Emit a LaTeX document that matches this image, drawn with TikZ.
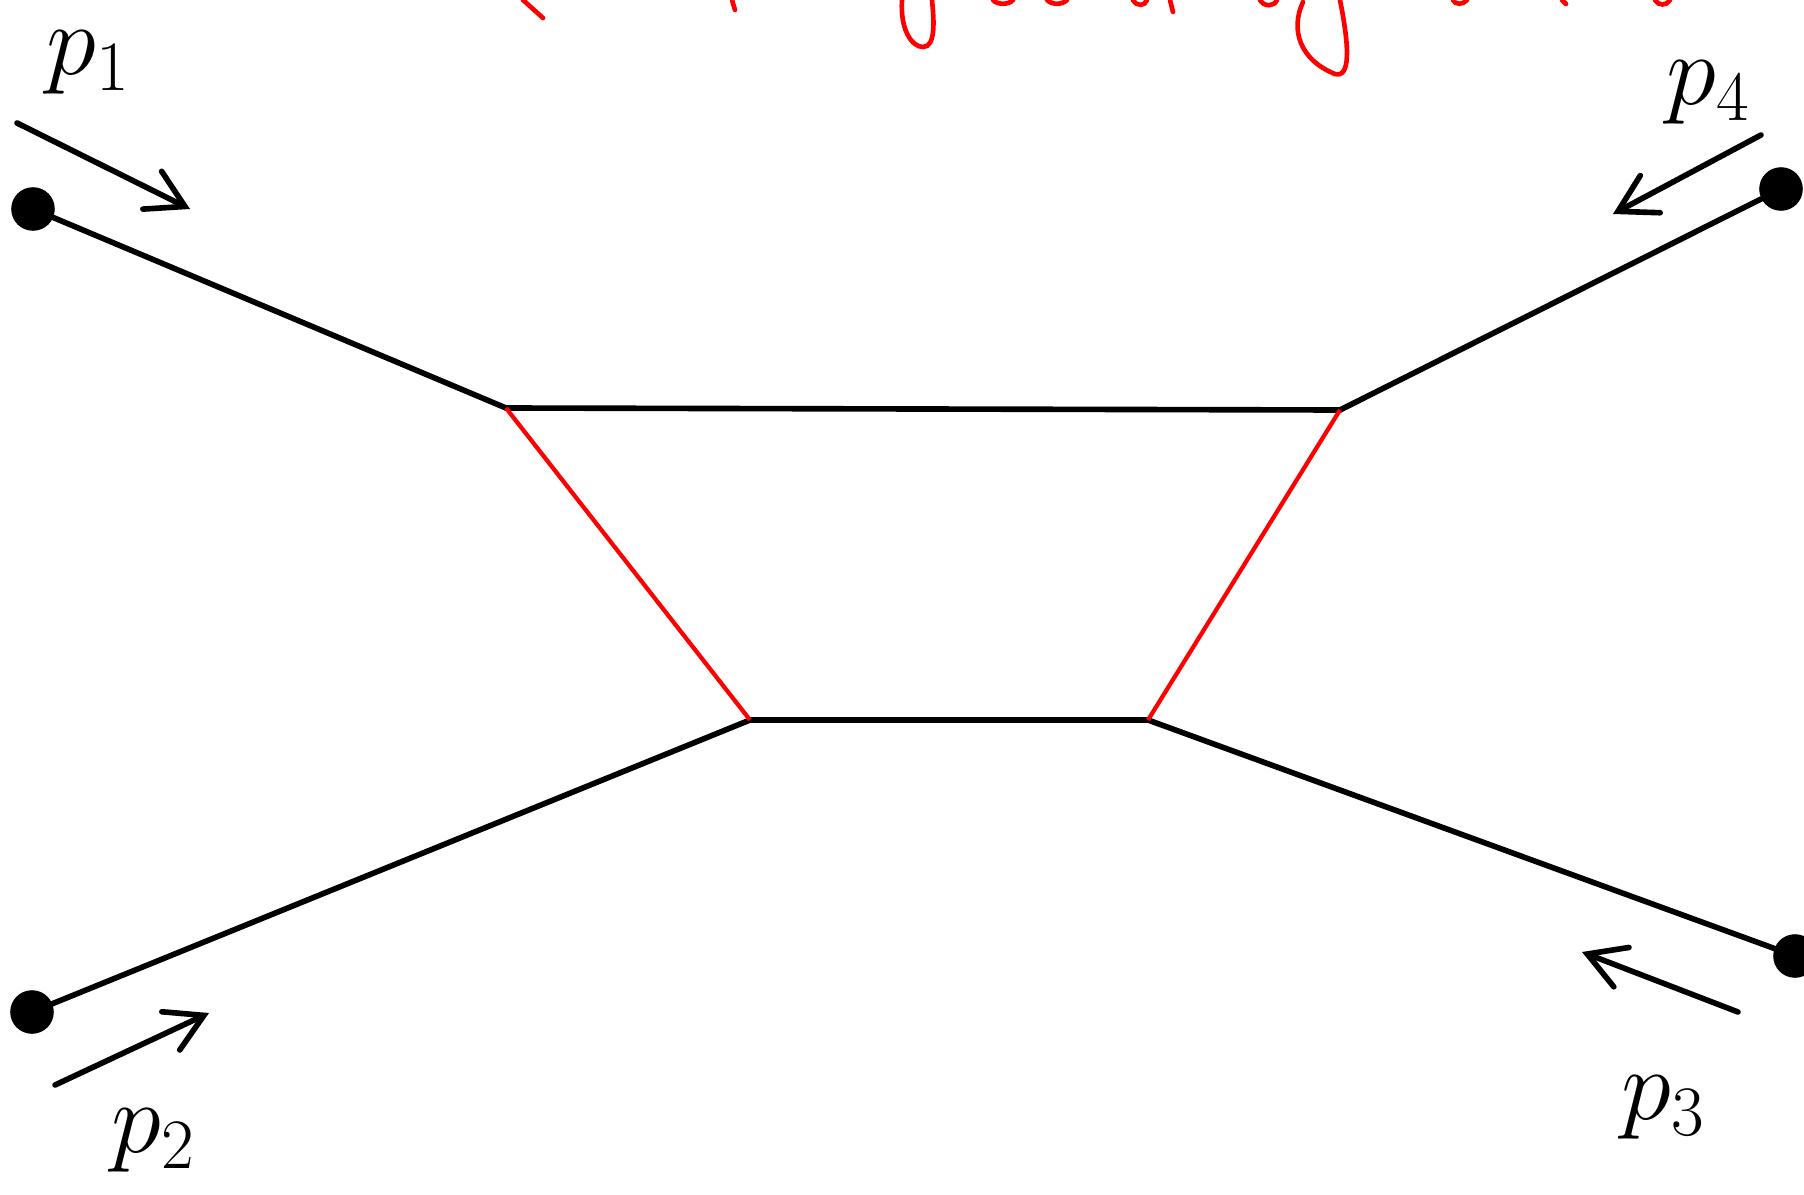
\RequirePackage{fix-cm}
\documentclass[tikz,border=0pt]{standalone}
\usetikzlibrary{arrows.meta}

\begin{document}
\begin{tikzpicture}[x=0.025cm, y=-0.025cm,
    leg/.style={line width=4pt, line cap=round},
    prop/.style={red, line width=3pt},
    mom/.style={line width=4pt, line cap=round, line join=round,
        -{Straight Barb[length=26pt, width=30pt, line cap=round]}},
    extdot/.style={circle, fill=black, inner sep=0pt, minimum size=31pt},
    lab/.style={inner sep=0pt, font=\fontsize{72}{80}\selectfont},
    scrawl/.style={red, line width=3.3pt, line cap=round}]
    \useasboundingbox (0,0) rectangle (1804,1195);

    % Cut-off red title
    \draw[scrawl] (523,0) -- (543,18);
    \draw[scrawl] (732,0) -- (735,10);
    \draw[scrawl] (902,0) .. controls (900,30) and (912,47) .. (923,47) .. controls (936,47) and (934,20) .. (932,0);
    \draw[scrawl] (993,0) .. controls (997,5) and (1009,5) .. (1013,0);
    \draw[scrawl] (1047,0) .. controls (1052,5) and (1062,5) .. (1067,0);
    \draw[scrawl] (1133,0) .. controls (1137,7) and (1145,6) .. (1147,0);
    \draw[scrawl] (1170,0) -- (1173,12);
    \draw[scrawl] (1260,0) .. controls (1264,7) and (1274,7) .. (1277,0);
    \draw[scrawl] (1303,2) .. controls (1290,30) and (1300,60) .. (1335,74) .. controls (1350,78) and (1350,50) .. (1340,0);
    \draw[scrawl] (1453,0) .. controls (1455,5) and (1463,5) .. (1467,0);
    \draw[scrawl] (1562,0) -- (1566,4);
    \draw[scrawl] (1655,0) .. controls (1658,6) and (1667,6) .. (1670,0);

    % Vertices of the box
    \coordinate (tl) at (506,408);
    \coordinate (tr) at (1340,410);
    \coordinate (bl) at (750,720);
    \coordinate (br) at (1148,720);

    % External points
    \node[extdot] (d1) at (33,209) {};
    \node[extdot] (d2) at (32,1012) {};
    \node[extdot] (d3) at (1795,956) {};
    \node[extdot] (d4) at (1781,189) {};

    % External legs
    \draw[leg] (d1) -- (tl);
    \draw[leg] (d2) -- (bl);
    \draw[leg] (d3) -- (br);
    \draw[leg] (d4) -- (tr);

    % Box
    \draw[leg] (tl) -- (tr);
    \draw[leg] (bl) -- (br);
    \draw[prop] (tl) -- (bl);
    \draw[prop] (tr) -- (br);

    % Momentum arrows
    \coordinate (m1s) at (17,123);   \coordinate (m1e) at (190,209);
    \coordinate (m2s) at (55,1085);  \coordinate (m2e) at (209,1013);
    \coordinate (m3s) at (1738,1012); \coordinate (m3e) at (1582,952);
    \coordinate (m4s) at (1761,135); \coordinate (m4e) at (1613,214);
    \draw[mom] (m1s) -- (m1e);
    \draw[mom] (m2s) -- (m2e);
    \draw[mom] (m3s) -- (m3e);
    \draw[mom] (m4s) -- (m4e);

    % Momentum labels
    \node[lab] (l1) at (88,63) {$p_1$};
    \node[lab] (l2) at (153,1141) {$p_2$};
    \node[lab] (l3) at (1663,1108) {$p_3$};
    \node[lab] (l4) at (1708,93) {$p_4$};
\end{tikzpicture}
\end{document}
